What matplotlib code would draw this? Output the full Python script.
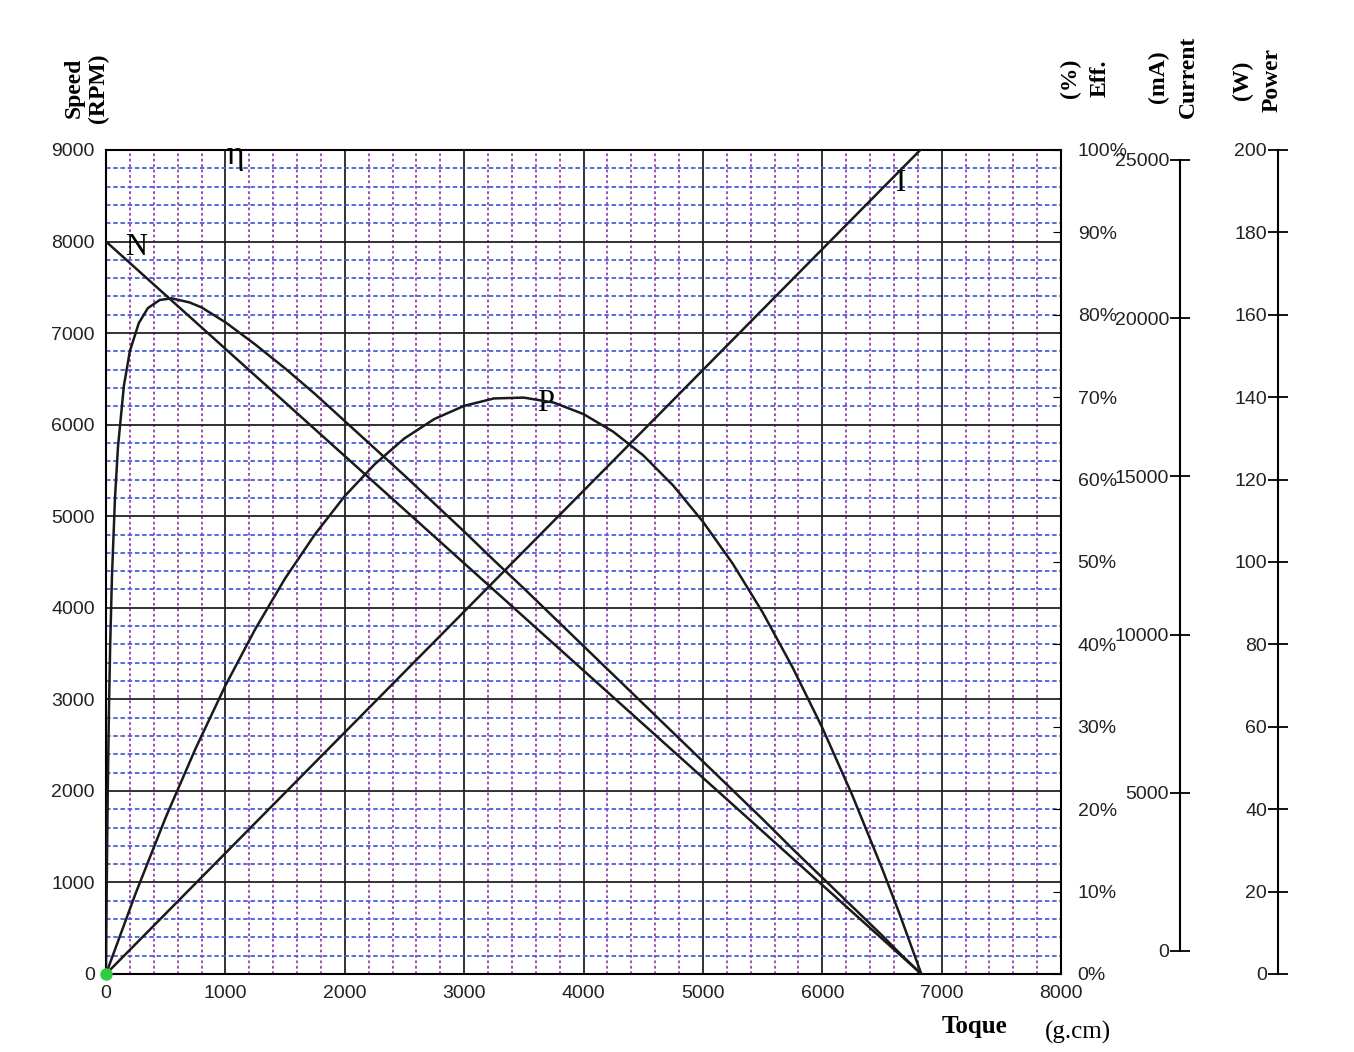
import matplotlib
matplotlib.use("Agg")
import matplotlib.pyplot as plt
import numpy as np

torque_N = [0, 6830]
speed_N = [8000, 0]
torque_I = [0, 6830]
current_I = [-727, 25350]
torque_P = [0, 250, 500, 750, 1000, 1250, 1500, 1750, 2000, 2250, 2500, 2750, 3000, 3250, 3500,
            3750, 4000, 4250, 4500, 4750, 5000, 5250, 5500, 5750, 6000, 6250, 6500, 6650, 6830]
power_P = [0, 19.7, 38.0, 54.7, 70.0, 83.7, 96.0, 106.7, 116.0, 123.7, 130.0, 134.7, 137.9, 139.7,
           139.9, 138.7, 135.9, 131.6, 125.9, 118.6, 109.8, 99.6, 87.8, 74.5, 59.8, 43.5, 25.7, 14.4, 0]
torque_E = [0, 5, 10, 15, 25, 35, 50, 75, 100, 150, 200, 275, 350, 450, 550, 700, 800, 1000, 1250,
            1500, 1750, 2000, 2250, 2500, 2750, 3000, 3250, 3500, 3750, 4000, 4250, 4500, 4750,
            5000, 5250, 5500, 5750, 6000, 6250, 6500, 6650, 6830]
eff_E = [0, 8.8, 16.2, 22.4, 32.3, 39.9, 48.3, 57.7, 63.9, 71.4, 75.6, 79.0, 80.8, 81.8, 82.0, 81.5,
         80.9, 79.1, 76.4, 73.5, 70.4, 67.1, 63.8, 60.5, 57.1, 53.7, 50.2, 46.8, 43.3, 39.8, 36.3,
         32.8, 29.3, 25.8, 22.3, 18.8, 15.2, 11.7, 8.2, 4.7, 2.5, 0]

plt.rcParams['font.family'] = ['Liberation Sans', 'DejaVu Sans']
fig = plt.figure(figsize=(13.54, 10.52), dpi=100)
ax = fig.add_axes([106/1354, 78/1052, 955/1354, 824/1052])
ax.set_xlim(0, 8000)
ax.set_ylim(0, 9000)
ax.set_xticks(range(0, 8001, 1000))
ax.set_yticks(range(0, 9001, 1000))
ax.set_xticks(range(0, 8001, 200), minor=True)
ax.set_yticks(range(0, 9001, 200), minor=True)
ax.grid(which='minor', axis='x', color='#9a3fb0', linestyle=(0, (1.5, 1.5)), lw=1.3)
ax.grid(which='minor', axis='y', color='#4a5fd8', linestyle=(0, (2.5, 1.5)), lw=1.3)
ax.grid(which='major', color='#222222', lw=1.3)
ax.set_axisbelow(True)
ax.tick_params(which='minor', length=0)
ax.tick_params(which='major', length=0, labelsize=14, pad=8, labelcolor='#222222')
for s in ax.spines.values():
    s.set_linewidth(1.5)

lc = '#1a1a1a'
kw = dict(color=lc, lw=1.8, zorder=5, solid_joinstyle='round')
ax.plot(torque_N, speed_N, **kw)
ax.plot(np.array(torque_E), np.array(eff_E) / 100 * 9000, **kw)
ax.plot(torque_P, np.array(power_P) / 200 * 9000, **kw)
cur_lo, cur_hi = -727, 25316
ax.plot(torque_I, (np.array(current_I) - cur_lo) / (cur_hi - cur_lo) * 9000, **kw)
ax.plot([0], [0], 'o', color='#2ecc40', ms=8, zorder=6, clip_on=False)

sf = ['Liberation Serif', 'DejaVu Serif']
ax.text(250, 7850, 'N', family=sf, fontsize=22, ha='center')
ax.text(1080, 8850, 'η', family=sf, fontsize=24, ha='center')
ax.text(3680, 6150, 'P', family=sf, fontsize=22, ha='center')
ax.text(6660, 8550, 'I', family=sf, fontsize=22, ha='center')

eff = ax.twinx()
eff.set_ylim(0, 100)
eff.set_yticks(range(0, 101, 10))
eff.set_yticklabels([f'{v}%' for v in range(0, 101, 10)])
eff.tick_params(direction='in', length=6, labelsize=14, pad=12, labelcolor='#222222')
for s in eff.spines.values():
    s.set_visible(False)

cur = ax.twinx()
cur.set_ylim(cur_lo, cur_hi)
for n, s in cur.spines.items():
    s.set_visible(n == 'left')
cur.spines['left'].set_position(('axes', (1180 - 106) / 955))
cur.spines['left'].set_bounds(0, 25000)
cur.spines['left'].set_linewidth(1.5)
cur.yaxis.set_ticks_position('left')
cur.set_yticks(range(0, 25001, 5000))
cur.tick_params(direction='inout', length=14, width=1.3, labelsize=14, pad=1, labelcolor='#222222')

pw = ax.twinx()
pw.set_ylim(0, 200)
for n, s in pw.spines.items():
    s.set_visible(n == 'left')
pw.spines['left'].set_position(('axes', (1278 - 106) / 955))
pw.spines['left'].set_linewidth(1.5)
pw.yaxis.set_ticks_position('left')
pw.set_yticks(range(0, 201, 20))
pw.tick_params(direction='inout', length=14, width=1.3, labelsize=14, pad=1, labelcolor='#222222')

lab = dict(family=sf, fontsize=17, rotation=90, ha='center', va='center', fontweight='bold')
fig.text(86 / 1354, 1 - 88 / 1052, 'Speed\n(RPM)', linespacing=1.2, **lab)
fig.text(1085 / 1354, 1 - 78 / 1052, '(%)\nEff.', linespacing=1.55, **lab)
fig.text(1173 / 1354, 1 - 77 / 1052, '(mA)\nCurrent', linespacing=1.55, **lab)
fig.text(1257 / 1354, 1 - 80 / 1052, '(W)\nPower', linespacing=1.55, **lab)
fig.text(975 / 1354, 1 - 1027 / 1052, 'Toque', family=sf, fontsize=18, fontweight='bold',
         ha='center', va='center')
fig.text(1078 / 1354, 1 - 1032 / 1052, '(g.cm)', family=sf, fontsize=18, ha='center', va='center')

fig.savefig('out.png', dpi=100)
